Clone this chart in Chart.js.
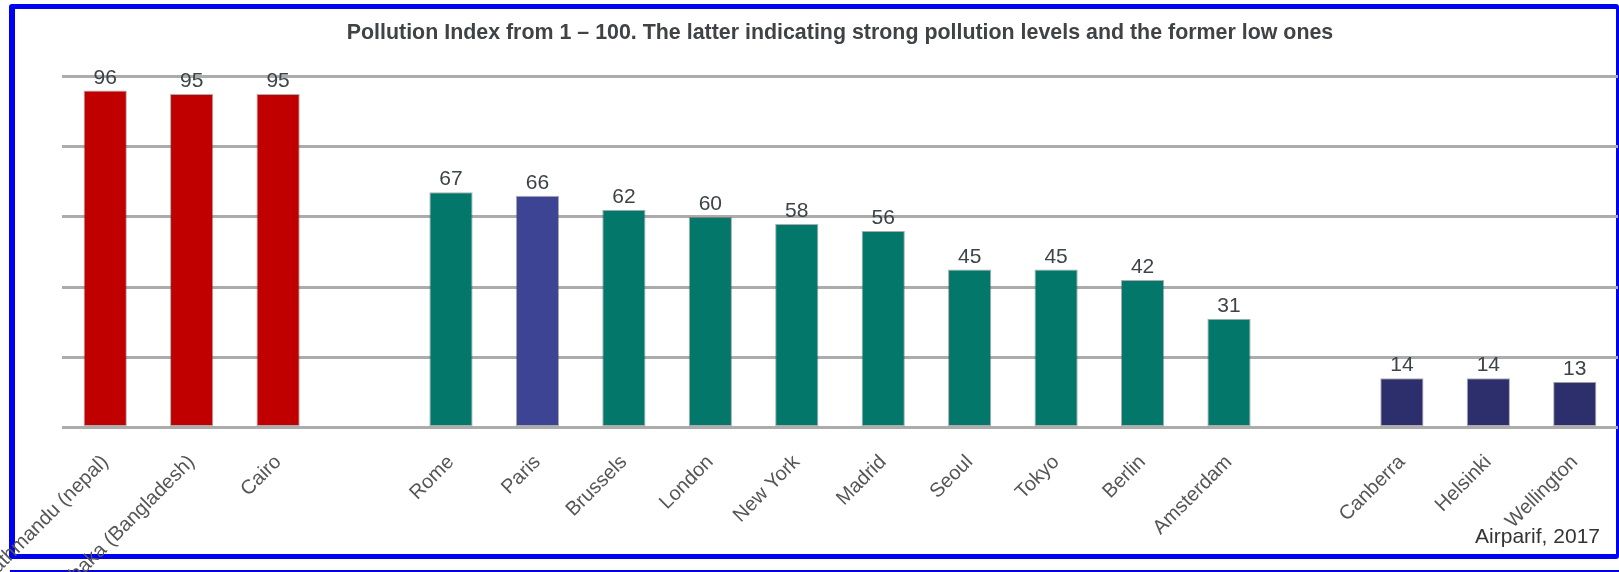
<!DOCTYPE html>
<html>
<head>
<meta charset="utf-8">
<title>Pollution Index</title>
<script src="https://cdn.jsdelivr.net/npm/chart.js@4.4.1/dist/chart.umd.min.js"></script>
<style>
  html, body { margin: 0; padding: 0; background: #fff; overflow: hidden; }
  #wrap { position: relative; width: 1619px; height: 572px; }
  .frame {
    position: absolute; left: 9px; top: 4px; width: 1610px; height: 555px;
    box-sizing: border-box; border: 5px solid #0000f2; border-left-width: 6px;
    border-right-width: 3px; border-radius: 3px;
  }
  .rule { position: absolute; left: 10px; right: 0; top: 570px; height: 2px; background: #0000e0; }
  canvas { position: absolute; left: 0; top: 0; }
</style>
</head>
<body>
<div id="wrap">
  <div class="frame"></div>
  <div class="rule"></div>
  <canvas id="chart" width="1619" height="572"></canvas>
</div>
<script>
// Cities, with blank slots separating the three groups
const cities = [
  'Kathmandu (nepal)', 'Dhaka (Bangladesh)', 'Cairo', '',
  'Rome', 'Paris', 'Brussels', 'London', 'New York', 'Madrid',
  'Seoul', 'Tokyo', 'Berlin', 'Amsterdam', '',
  'Canberra', 'Helsinki', 'Wellington'
];
// Pollution index (1 - 100)
const pollutionIndex = [
  96, 95, 95, null,
  67, 66, 62, 60, 58, 56, 45, 45, 42, 31, null,
  14, 14, 13
];
const RED = '#c00000', TEAL = '#03786a', PARIS = '#3d4494', NAVY = '#2c2f6c';
const barColors = [
  RED, RED, RED, null,
  TEAL, PARIS, TEAL, TEAL, TEAL, TEAL, TEAL, TEAL, TEAL, TEAL, null,
  NAVY, NAVY, NAVY
];
const yMin = 0, yMax = 100, yStep = 20;
const titleText = 'Pollution Index from 1 \u2013 100. The latter indicating strong pollution levels and the former low ones';
const sourceText = 'Airparif, 2017';

const FONT = '"Liberation Sans", Arial, Helvetica, sans-serif';

// Numbers above each bar
const valueLabels = {
  id: 'valueLabels',
  afterDatasetsDraw(chart) {
    const ctx = chart.ctx;
    const meta = chart.getDatasetMeta(0);
    ctx.save();
    ctx.font = '21px ' + FONT;
    ctx.fillStyle = '#3d4448';
    ctx.textAlign = 'center';
    ctx.textBaseline = 'alphabetic';
    meta.data.forEach((bar, i) => {
      const v = pollutionIndex[i];
      if (v == null) return;
      ctx.fillText(String(v), bar.x, bar.y - 7);
    });
    ctx.restore();
  }
};

// Source note in the bottom-right corner
const sourceNote = {
  id: 'sourceNote',
  afterDraw(chart) {
    const ctx = chart.ctx;
    ctx.save();
    ctx.font = '21px ' + FONT;
    ctx.fillStyle = '#333';
    ctx.textAlign = 'right';
    ctx.textBaseline = 'alphabetic';
    ctx.fillText(sourceText, 1600, 543);
    ctx.restore();
  }
};

new Chart(document.getElementById('chart'), {
  type: 'bar',
  data: {
    labels: cities,
    datasets: [{
      data: pollutionIndex,
      backgroundColor: barColors,
      borderColor: 'rgba(70,70,70,0.45)',
      borderWidth: 1,
      borderSkipped: false,
      barPercentage: 0.5,
      categoryPercentage: 1.0
    }]
  },
  options: {
    responsive: false,
    devicePixelRatio: 1,
    animation: false,
    layout: { padding: { left: 62, right: 1, top: 10, bottom: 0 } },
    plugins: {
      legend: { display: false },
      tooltip: { enabled: false },
      title: {
        display: true,
        text: titleText,
        color: '#3f4346',
        font: { family: FONT, size: 21.4, weight: 'bold', lineHeight: 1.2 },
        padding: { top: 10.5, bottom: 30.3 }
      }
    },
    scales: {
      x: {
        grid: { display: false, drawTicks: false },
        border: { display: false },
        ticks: {
          autoSkip: false,
          minRotation: 45,
          maxRotation: 45,
          padding: 23,
          color: '#555',
          font: { family: FONT, size: 20 }
        },
        afterFit(axis) {
          axis.height = 144.5;
          axis.paddingLeft = 0;
          axis.paddingRight = 0;
        }
      },
      y: {
        min: yMin,
        max: yMax,
        ticks: { display: false, stepSize: yStep },
        border: { display: false },
        grid: { color: '#acacac', lineWidth: 3, drawTicks: false }
      }
    }
  },
  plugins: [valueLabels, sourceNote]
});
</script>
</body>
</html>
